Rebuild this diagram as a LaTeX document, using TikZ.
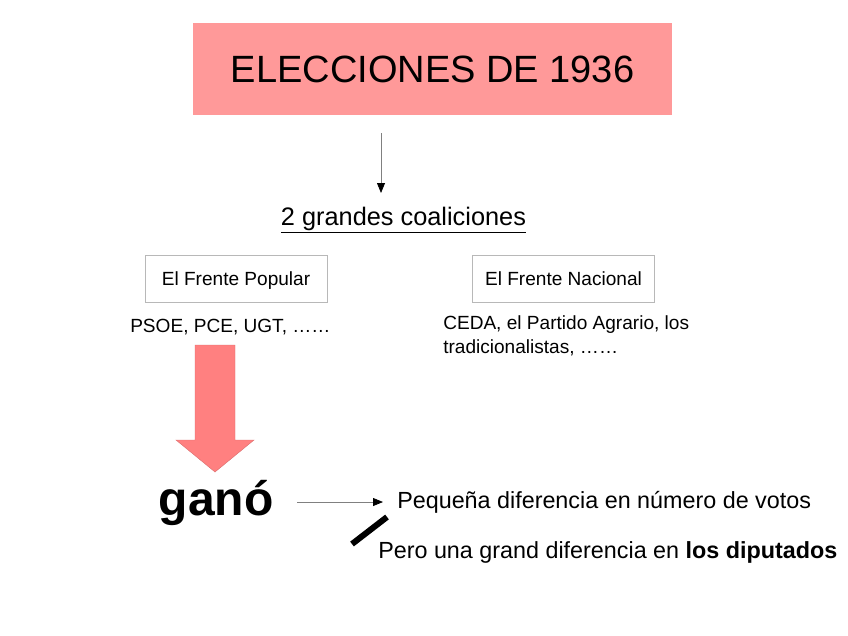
\documentclass[tikz,border=0pt]{standalone}
\usepackage{fontspec}
\setmainfont{Liberation Sans}
\usetikzlibrary{arrows.meta, positioning}
\definecolor{titlepink}{HTML}{FF9999}
\definecolor{arrowpink}{HTML}{FF8080}
\definecolor{boxgray}{HTML}{B8B8B8}

\begin{document}
\begin{tikzpicture}[
        x=0.75pt, y=-0.75pt,
        titlebox/.style={rectangle, fill=titlepink, minimum width=359.25pt, minimum height=69pt, inner sep=0pt, font=\fontsize{28.5}{34}\selectfont},
        party/.style={rectangle, draw=boxgray, line width=0.6pt, minimum width=136.5pt, minimum height=35.25pt, inner sep=0pt, text depth=0pt, font=\fontsize{14.3}{17}\selectfont},
        members/.style={align=left, inner sep=0pt, font=\fontsize{14.3}{17.3}\selectfont},
        result/.style={inner sep=0pt, font=\fontsize{17.5}{21}\selectfont},
        arrow/.style={draw=gray, line width=0.6pt, -{Triangle[length=7.5pt, width=6pt, black]}},
        bigarrow/.style={fill=arrowpink, draw=arrowpink!85!black, line width=0.3pt},
        slash/.style={draw=black, line width=4.5pt}
    ]
        \useasboundingbox (0,0) rectangle (848,635);

        % TITLE
        \node[titlebox] (title) at (432.5,69) {ELECCIONES DE 1936};
        \node[anchor=base, inner sep=0pt, font=\fontsize{19}{23}\selectfont] (coal) at (403.5,225) {\underline{2 grandes coaliciones}};

        % COALITIONS
        \node[party] (popular) at (236,278.5) {El Frente Popular};
        \node[party] (nacional) at (563.5,278.5) {El Frente Nacional};
        \node[members, anchor=base west] (izq) at (130,332) {PSOE, PCE, UGT, ……};
        \node[members, anchor=base west] (der) at (443,353) {CEDA, el Partido Agrario, los\\tradicionalistas, ……};

        % RESULT
        \node[anchor=base, inner sep=0pt, font=\fontsize{36}{43}\selectfont\bfseries] (gano) at (216,515) {ganó};
        \node[result, anchor=base west] (votos) at (397,508) {Pequeña diferencia en número de votos};
        \node[result, anchor=base west] (diputados) at (378,558) {Pero una grand diferencia en \textbf{los diputados}};

        % ARROWS
        \coordinate (t1) at (381,133);
        \coordinate (t2) at (381,193);
        \draw[arrow] (t1) -- (t2);
        \fill[bigarrow] (195,345) -- (235,345) -- (235,440) -- (254,440) -- (215,472) -- (176,440) -- (195,440) -- cycle;
        \coordinate (g1) at (297,502);
        \coordinate (g2) at (383,502);
        \draw[arrow] (g1) -- (g2);
        \coordinate (s1) at (352,544);
        \coordinate (s2) at (387,517);
        \draw[slash] (s1) -- (s2);
    \end{tikzpicture}
\end{document}
